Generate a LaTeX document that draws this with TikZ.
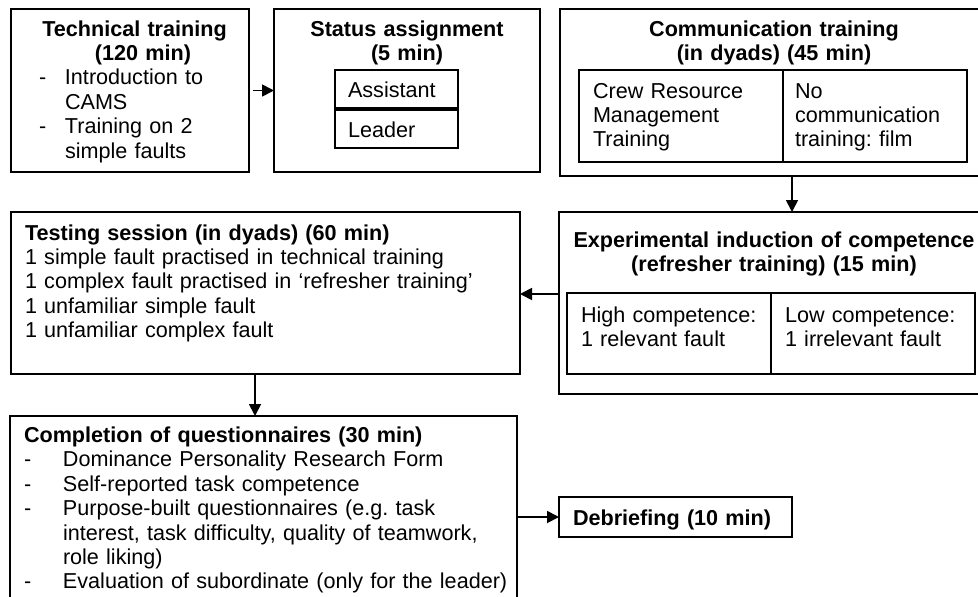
\documentclass[tikz,border=0pt]{standalone}
\usepackage{fontspec}
\setmainfont{Liberation Sans}
\usetikzlibrary{arrows.meta}
\frenchspacing
\tikzset{
  box/.style={draw=black, line width=2.4pt, rectangle, anchor=north west, inner sep=0pt, outer sep=0pt},
  txt/.style={inner sep=0pt, outer sep=0pt, anchor=base west, text width=#1, align=left,
              font=\fontsize{21.6}{24.4}\selectfont},
  txt/.default=460pt,
  ttl/.style={inner sep=0pt, outer sep=0pt, anchor=base, text width=460pt, align=center,
              font=\fontsize{21.6}{24.4}\selectfont\bfseries},
  conn/.style={line width=1.8pt, -{Triangle[length=12pt,width=12pt]}},
}
\begin{document}
\begin{tikzpicture}[x=1pt, y=-1pt]
\useasboundingbox (0,0) rectangle (978,597);
\clip (0,0) rectangle (978,597);
\fill[white] (0,0) rectangle (978,597);

% outer boxes
\node[box, minimum width=238pt, minimum height=163pt] (tech) at (11,9) {};
\node[box, minimum width=266pt, minimum height=163pt] (status) at (274,9) {};
\node[box, minimum width=430pt, minimum height=167pt] (comm) at (560,9) {};
\node[box, minimum width=430pt, minimum height=182pt] (exp) at (559,212) {};
\node[box, minimum width=509pt, minimum height=162pt] (test) at (11,212) {};
\node[box, minimum width=507pt, minimum height=210pt] (quest) at (10,416) {};
\node[box, minimum width=233pt, minimum height=40pt] (debrief) at (559,497) {};

% inner boxes
\node[box, minimum width=123pt, minimum height=38pt] (assist) at (335,70) {};
\node[box, minimum width=123pt, minimum height=38pt] (leader) at (335,110) {};
\node[box, minimum width=204pt, minimum height=92pt] (crm) at (579,70) {};
\node[box, minimum width=184pt, minimum height=92pt] (nocomm) at (783,70) {};
\node[box, minimum width=204pt, minimum height=81pt] (high) at (567,293) {};
\node[box, minimum width=204pt, minimum height=81pt] (low) at (771,293) {};

% texts
\node[ttl] (techT1) at (134.5,36) {Technical training};
\node[ttl] (techT2) at (143,60.4) {(120 min)};
\node[txt=200pt] (techL) at (39,84.8) {\makebox[26pt][l]{-}Introduction to\\\hspace*{26pt}CAMS\\\makebox[26pt][l]{-}Training on 2\\\hspace*{26pt}simple faults};

\node[ttl] (statusT) at (407,36) {Status assignment\\(5 min)};
\node[txt=110pt] (assistT) at (348,97) {Assistant};
\node[txt=110pt] (leaderT) at (348,137) {Leader};

\node[ttl] (commT) at (774,36) {Communication training\\(in dyads) (45 min)};
\node[txt=185pt] (crmT) at (593,98) {Crew Resource\\Management\\Training};
\node[txt=175pt] (nocommT) at (795,98) {No\\communication\\training: film};

\node[ttl] (expT) at (774,247.5) {Experimental induction of competence\\(refresher training) (15 min)};
\node[txt=185pt] (highT) at (581,322.5) {High competence:\\1 relevant fault};
\node[txt=185pt] (lowT) at (785,322.5) {Low competence:\\1 irrelevant fault};

\node[txt] (testT) at (25,240) {\textbf{Testing session (in dyads) (60 min)}\\
1 simple fault practised in technical training\\
1 complex fault practised in ‘refresher training’\\
1 unfamiliar simple fault\\
1 unfamiliar complex fault};

\node[txt=490pt] (questT) at (24,442.5) {\textbf{Completion of questionnaires (30 min)}\\
\makebox[39pt][l]{-}Dominance Personality Research Form\\
\makebox[39pt][l]{-}Self-reported task competence\\
\makebox[39pt][l]{-}Purpose-built questionnaires (e.g. task\\
\hspace*{39pt}interest, task difficulty, quality of teamwork,\\
\hspace*{39pt}role liking)\\
\makebox[39pt][l]{-}Evaluation of subordinate (only for the leader)};

\node[txt=220pt] (debriefT) at (573,525) {\textbf{Debriefing (10 min)}};

% connectors
\coordinate (xa) at (792,0);
\coordinate (yb) at (0,294);
\coordinate (xc) at (255,0);
\draw[conn, shorten <=4pt] (tech.east) -- (status.west);
\draw[conn] (comm.south -| xa) -- (exp.north -| xa);
\draw[conn] (exp.west |- yb) -- (test.east |- yb);
\draw[conn] (test.south -| xc) -- (quest.north -| xc);
\draw[conn] (quest.east |- debrief.west) -- (debrief.west);
\end{tikzpicture}
\end{document}
